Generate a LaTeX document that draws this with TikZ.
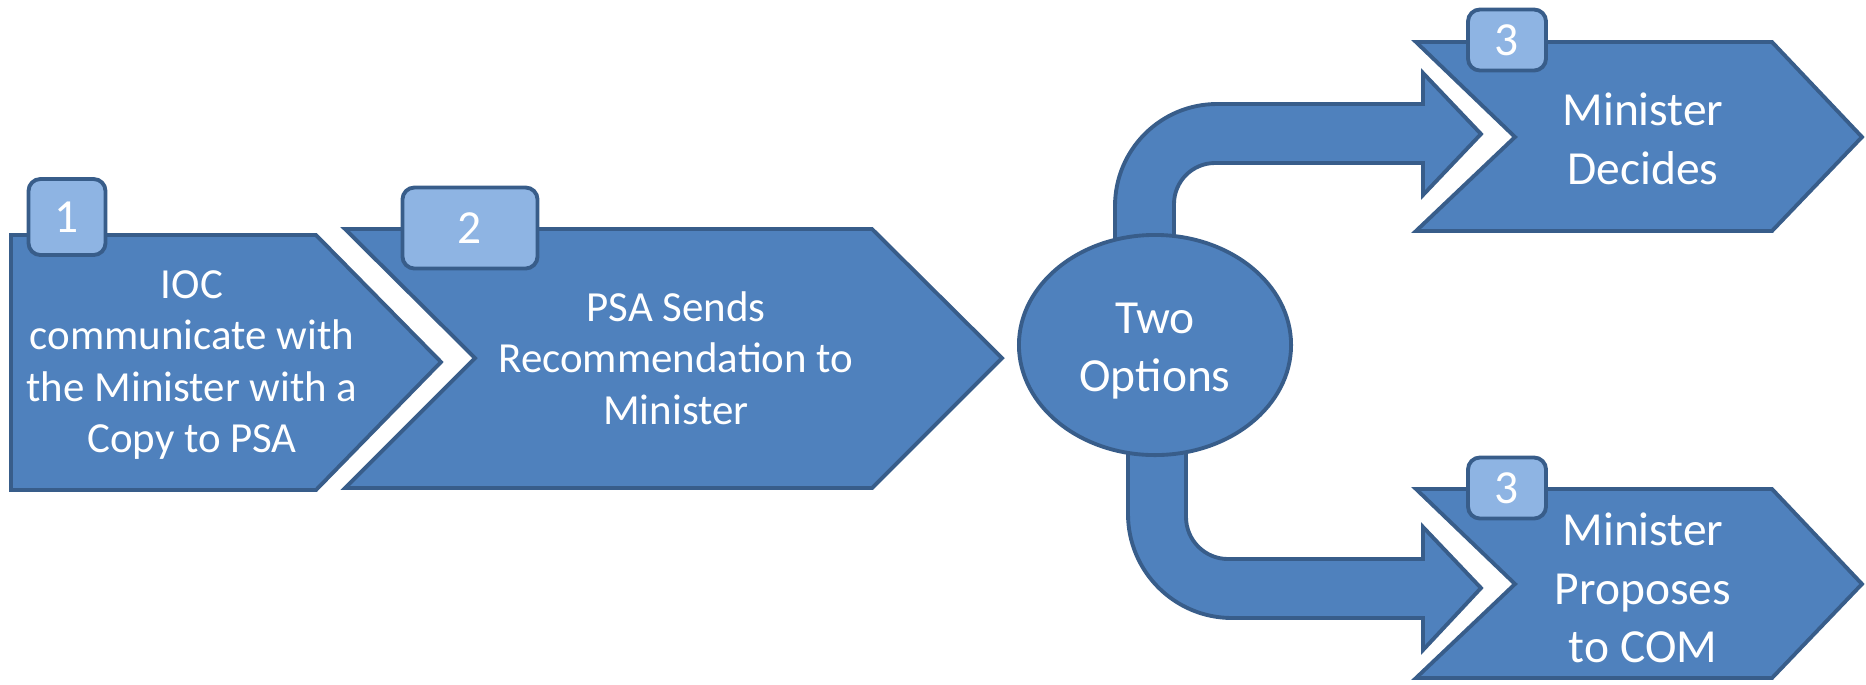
\documentclass[tikz,border=0pt]{standalone}
\usepackage{fontspec}
\setmainfont{Carlito}
\usetikzlibrary{shapes.geometric}
\definecolor{stepfill}{HTML}{4F81BD}
\definecolor{stepline}{HTML}{385D8A}
\definecolor{tabfill}{HTML}{8EB4E3}
\tikzset{
  block/.style={fill=stepfill,draw=stepline,line width=1.1pt},
  steptext/.style={text=white,align=center,font=\fontsize{12.2}{14.6}\selectfont},
  bigtext/.style={text=white,align=center,font=\fontsize{13.5}{16.6}\selectfont},
  numtab/.style={fill=tabfill,draw=stepline,line width=1.1pt,rounded corners=0.12cm,
    text=white,inner sep=0pt,font=\fontsize{13.5}{13.5}\selectfont}
}
\begin{document}
\begin{tikzpicture}[x=0.01cm,y=-0.01cm]
\useasboundingbox (0,0) rectangle (1866,684);
% bent arrows out of the ellipse
\filldraw[block] (1115,340) -- (1115,206) arc[start angle=180,end angle=270,radius=102]
  -- (1423,104) -- (1423,73) -- (1481,134) -- (1423,195) -- (1423,163)
  -- (1215,163) arc[start angle=270,end angle=180,radius=41] -- (1174,340) -- cycle;
\filldraw[block] (1128,350) -- (1128,514) arc[start angle=180,end angle=90,radius=104]
  -- (1423,618) -- (1423,650) -- (1481,588) -- (1423,527) -- (1423,559)
  -- (1228,559) arc[start angle=90,end angle=180,radius=42] -- (1186,350) -- cycle;
% chevrons
\filldraw[block] (11,235) -- (316,235) -- (441,362) -- (316,490) -- (11,490) -- cycle;
\filldraw[block] (345,229) -- (872,229) -- (1002,358) -- (872,488) -- (345,488) -- (475,358) -- cycle;
\filldraw[block] (1416,42) -- (1772,42) -- (1862,137) -- (1772,231) -- (1416,231) -- (1515,137) -- cycle;
\filldraw[block] (1416,489) -- (1772,489) -- (1862,584) -- (1772,678) -- (1416,678) -- (1515,584) -- cycle;
% texts
\node[block,ellipse,minimum width=2.72cm,minimum height=2.2cm] (opt) at (1155,345) {};
\node[bigtext] (opttext) at (1155,351) {Two\\Options};
\node[steptext] (ioc) at (192,365) {IOC\\communicate with\\the Minister with a\\Copy to PSA};
\node[steptext] (psa) at (676,358) {PSA Sends\\Recommendation to\\Minister};
\node[bigtext] (dec) at (1643,139) {Minister\\Decides};
\node[bigtext] (com) at (1643,588) {Minister\\Proposes\\to COM};
% number tabs
\node[numtab,minimum width=0.77cm,minimum height=0.76cm] (n1) at (67,217) {1};
\node[numtab,minimum width=1.35cm,minimum height=0.81cm] (n2) at (470,228) {2};
\node[numtab,minimum width=0.78cm,minimum height=0.61cm] (n3a) at (1507,40) {3};
\node[numtab,minimum width=0.78cm,minimum height=0.61cm] (n3b) at (1507,488) {3};
\end{tikzpicture}
\end{document}
